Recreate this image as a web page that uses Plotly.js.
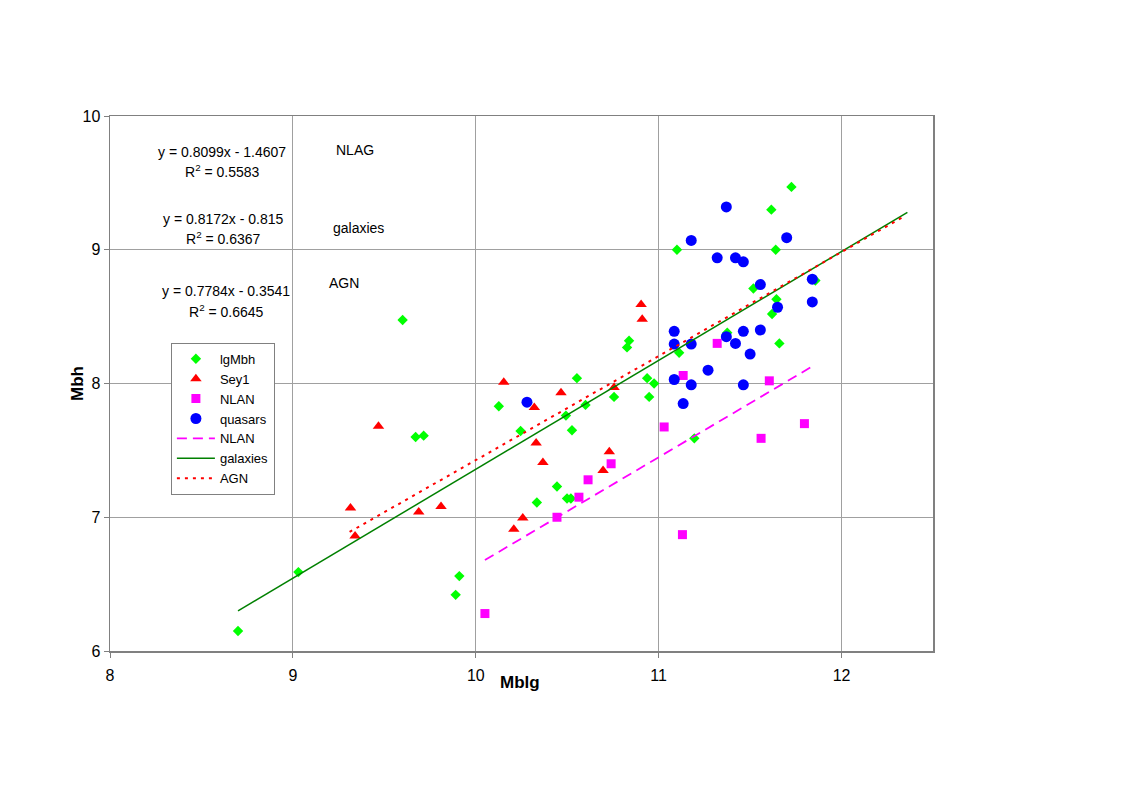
<!DOCTYPE html>
<html>
<head>
<meta charset="utf-8">
<script src="https://cdn.plot.ly/plotly-3.0.1.min.js"></script>
<style>
  body { margin: 0; background: #fff; }
  #plot { width: 1132px; height: 789px; }
</style>
</head>
<body>
<div id="plot"></div>
<script>
// lgMbh (green diamonds)
let lgMbhX = [8.70, 9.03, 9.60, 9.671, 9.715, 9.89, 9.91, 10.126, 10.245, 10.334, 10.444, 10.493, 10.499, 10.52,
    10.526, 10.553, 10.60, 10.756, 10.827, 10.838, 10.937, 10.948, 10.975, 11.10, 11.112, 11.195, 11.375,
    11.518, 11.616, 11.62, 11.64, 11.644, 11.66, 11.726, 11.857];
let lgMbhY = [6.15, 6.59, 8.475, 7.60, 7.61, 6.42, 6.56, 7.83, 7.645, 7.11, 7.23, 7.76, 7.14, 7.14,
    7.65, 8.04, 7.84, 7.90, 8.27, 8.32, 8.04, 7.90, 8.00, 9.00, 8.23, 7.59, 8.38,
    8.71, 9.30, 8.52, 9.00, 8.63, 8.30, 9.47, 8.77];

// Sey1 (red triangles)
let sey1X = [9.315, 9.34, 9.468, 9.688, 9.81, 10.153, 10.208, 10.257, 10.32, 10.33, 10.367, 10.466,
    10.696, 10.73, 10.756, 10.904, 10.91];
let sey1Y = [7.07, 6.86, 7.68, 7.04, 7.08, 8.01, 6.91, 6.995, 7.82, 7.555, 7.41, 7.93,
    7.35, 7.49, 7.97, 8.59, 8.48];

// NLAN (magenta squares)
let nlanX = [10.05, 10.444, 10.564, 10.614, 10.74, 11.03, 11.13, 11.134, 11.32, 11.56, 11.605, 11.797];
let nlanY = [6.28, 7.00, 7.15, 7.28, 7.40, 7.675, 6.87, 8.06, 8.30, 7.59, 8.02, 7.70];

// quasars (blue circles)
let quasarX = [10.28, 11.085, 11.085, 11.085, 11.134, 11.178, 11.178, 11.178, 11.27, 11.32, 11.37, 11.37,
    11.42, 11.42, 11.463, 11.463, 11.463, 11.50, 11.556, 11.556, 11.65, 11.70, 11.84, 11.84];
let quasarY = [7.86, 8.39, 8.295, 8.03, 7.85, 8.295, 7.99, 9.07, 8.10, 8.94, 8.35, 9.32,
    8.30, 8.94, 8.39, 7.99, 8.91, 8.22, 8.40, 8.74, 8.57, 9.09, 8.78, 8.61];

// trendline end points
let nlanLineX = [10.05, 11.83];
let nlanLineY = [6.68, 8.12];
let galaxiesLineX = [8.70, 12.36];
let galaxiesLineY = [6.30, 9.28];
let agnLineX = [9.31, 12.33];
let agnLineY = [6.89, 9.24];

// equation labels
let eqText = ["y = 0.8099x - 1.4607", "R<sup>2</sup> = 0.5583",
    "y = 0.8172x - 0.815", "R<sup>2</sup> = 0.6367",
    "y = 0.7784x - 0.3541", "R<sup>2</sup> = 0.6645"];
let eqX = [8.614, 8.614, 8.619, 8.619, 8.636, 8.636];
let eqY = [9.731, 9.589, 9.230, 9.088, 8.692, 8.542];
let tagText = ["NLAG", "galaxies", "AGN"];
let tagX = [9.337, 9.356, 9.277];
let tagY = [9.746, 9.163, 8.751];

let font = "Liberation Sans, Arial, sans-serif";

let traces = [
    { x: lgMbhX, y: lgMbhY, mode: "markers", type: "scatter", name: "lgMbh",
      marker: { symbol: "diamond", size: 8, color: "#00ff00" } },
    { x: sey1X, y: sey1Y, mode: "markers", type: "scatter", name: "Sey1",
      marker: { symbol: "triangle-up", size: 10, color: "#ff0000" } },
    { x: nlanX, y: nlanY, mode: "markers", type: "scatter", name: "NLAN",
      marker: { symbol: "square", size: 9, color: "#ff00ff" } },
    { x: quasarX, y: quasarY, mode: "markers", type: "scatter", name: "quasars",
      marker: { symbol: "circle", size: 11, color: "#0000ff" } },
    { x: nlanLineX, y: nlanLineY, mode: "lines", type: "scatter", name: "NLAN",
      line: { color: "#ff00ff", width: 1.8, dash: "10px,6px" } },
    { x: galaxiesLineX, y: galaxiesLineY, mode: "lines", type: "scatter", name: "galaxies",
      line: { color: "#008000", width: 1.5 } },
    { x: agnLineX, y: agnLineY, mode: "lines", type: "scatter", name: "AGN",
      line: { color: "#ff0000", width: 2, dash: "3px,5px" } }
];

let annotations = [];
eqText.forEach((t, i) => {
    annotations.push({ x: eqX[i], y: eqY[i], xref: "x", yref: "y", text: t, showarrow: false,
        xanchor: "center", yanchor: "middle", font: { family: font, size: 14, color: "#000" } });
});
tagText.forEach((t, i) => {
    annotations.push({ x: tagX[i], y: tagY[i], xref: "x", yref: "y", text: t, showarrow: false,
        xanchor: "center", yanchor: "middle", font: { family: font, size: 14, color: "#000" } });
});
// axis titles placed like the original
annotations.push({ x: -0.0389, y: 0.501, xref: "paper", yref: "paper", text: "<b>Mbh</b>", textangle: -90,
    showarrow: false, xanchor: "center", yanchor: "middle", font: { family: font, size: 17, color: "#000" } });
annotations.push({ x: 0.498, y: -0.0598, xref: "paper", yref: "paper", text: "<b>Mblg</b>",
    showarrow: false, xanchor: "center", yanchor: "middle", font: { family: font, size: 17, color: "#000" } });

let layout = {
    width: 1132,
    height: 789,
    margin: { l: 110, r: 199, t: 116, b: 138 },
    paper_bgcolor: "#fff",
    plot_bgcolor: "#fff",
    font: { family: font, size: 16, color: "#000" },
    showlegend: true,
    legend: {
        x: 0.074, y: 0.576, xanchor: "left", yanchor: "top",
        bgcolor: "#fff", bordercolor: "#808080", borderwidth: 1,
        font: { family: font, size: 13, color: "#000" },
        itemwidth: 38
    },
    xaxis: {
        range: [8, 12.5], dtick: 1, tick0: 8,
        showgrid: true, gridcolor: "#a0a0a0", gridwidth: 1,
        showline: true, linecolor: "#808080", linewidth: 1.5, mirror: true,
        ticks: "outside", ticklen: 5, tickcolor: "#808080",
        ticklabelstandoff: 4,
        zeroline: false
    },
    yaxis: {
        range: [6, 10], dtick: 1, tick0: 6,
        showgrid: true, gridcolor: "#a0a0a0", gridwidth: 1,
        showline: true, linecolor: "#808080", linewidth: 1.5, mirror: true,
        ticks: "outside", ticklen: 5, tickcolor: "#808080",
        zeroline: false
    },
    annotations: annotations
};

Plotly.newPlot("plot", traces, layout, { displayModeBar: false, staticPlot: true });
</script>
</body>
</html>
